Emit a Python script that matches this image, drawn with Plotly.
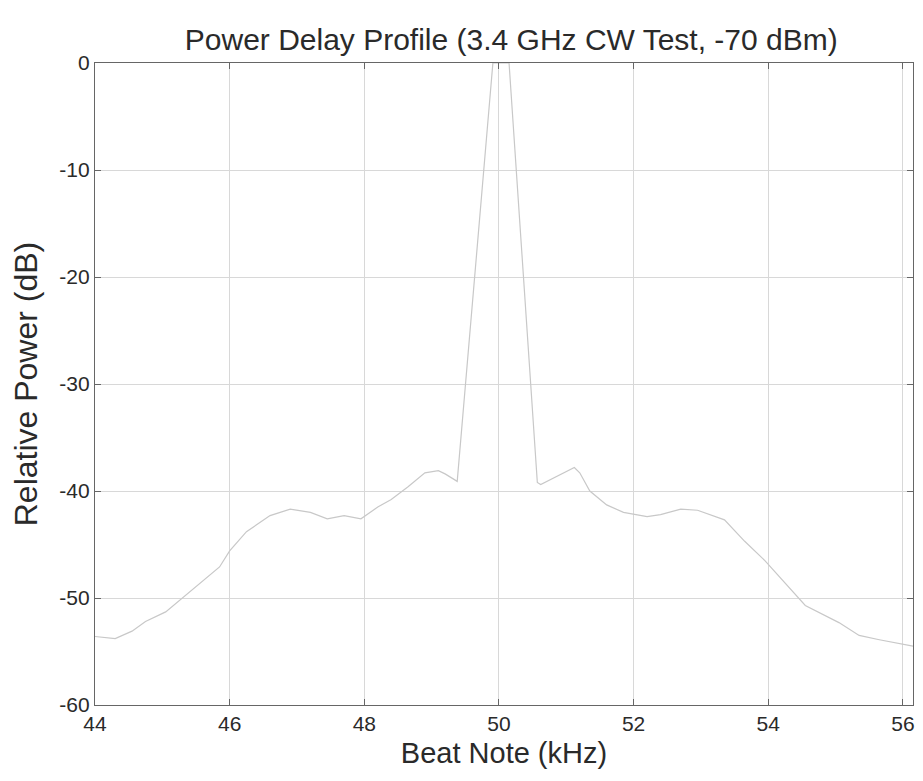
import plotly.graph_objects as go

# Data
freq_khz = [44.0, 44.3, 44.55, 44.75, 45.05, 45.3, 45.55, 45.85, 46.0, 46.25,
            46.6, 46.9, 47.2, 47.45, 47.7, 47.95, 48.2, 48.4, 48.65, 48.9,
            49.1, 49.2, 49.38, 49.91, 50.15, 50.57, 50.62, 51.12, 51.2, 51.35,
            51.6, 51.85, 52.2, 52.4, 52.7, 52.95, 53.35, 53.65, 53.95, 54.25,
            54.55, 55.05, 55.35, 55.65, 55.95, 56.15]
power_db = [-53.6, -53.8, -53.1, -52.2, -51.3, -50.0, -48.7, -47.1, -45.6, -43.8,
            -42.3, -41.7, -42.0, -42.6, -42.3, -42.6, -41.5, -40.8, -39.6, -38.3,
            -38.1, -38.4, -39.1, 0.0, 0.0, -39.2, -39.4, -37.8, -38.3, -40.0,
            -41.3, -42.0, -42.4, -42.2, -41.7, -41.8, -42.7, -44.7, -46.5, -48.6,
            -50.7, -52.3, -53.5, -53.9, -54.3, -54.5]

x_ticks = [44, 46, 48, 50, 52, 54, 56]
y_ticks = [-60, -50, -40, -30, -20, -10, 0]

title_text = "Power Delay Profile (3.4 GHz CW Test, -70 dBm)"
x_title = "Beat Note (kHz)"
y_title = "Relative Power (dB)"

FONT = "Liberation Sans, Arial, sans-serif"
TXT = "#2a2a2a"

fig = go.Figure()
fig.add_trace(go.Scatter(
    x=freq_khz, y=power_db, mode="lines",
    line=dict(color="#c8c8c8", width=1.2),
    showlegend=False,
))

axis_common = dict(
    showline=True, linecolor="#666666", linewidth=1.2, mirror="ticks",
    ticks="inside", ticklen=6, tickcolor="#666666",
    showgrid=True, gridcolor="#d8d8d8", gridwidth=1,
    zeroline=False, automargin=False,
    tickfont=dict(family=FONT, size=21, color=TXT),
)

# The page adds an 8px body margin, so the figure is sized to fit the window.
fig.update_layout(
    width=915, height=773,
    paper_bgcolor="white", plot_bgcolor="white",
    margin=dict(l=87, r=10, t=55, b=76),
    title=dict(text=title_text, x=0.55, xref="container", xanchor="center",
               y=0.959, yref="container", yanchor="middle",
               font=dict(family=FONT, size=30, color=TXT)),
    font=dict(family=FONT, color=TXT),
)
fig.update_xaxes(range=[44, 56.15], tickvals=x_ticks,
                 ticktext=[str(v) for v in x_ticks],
                 title=dict(text=x_title, standoff=8,
                            font=dict(family=FONT, size=29, color=TXT)),
                 **axis_common)
fig.update_yaxes(range=[-60, 0], tickvals=y_ticks,
                 ticktext=[str(v) for v in y_ticks],
                 title=dict(text=y_title, standoff=12,
                            font=dict(family=FONT, size=32, color=TXT)),
                 **axis_common)

fig.write_html("out.html")
